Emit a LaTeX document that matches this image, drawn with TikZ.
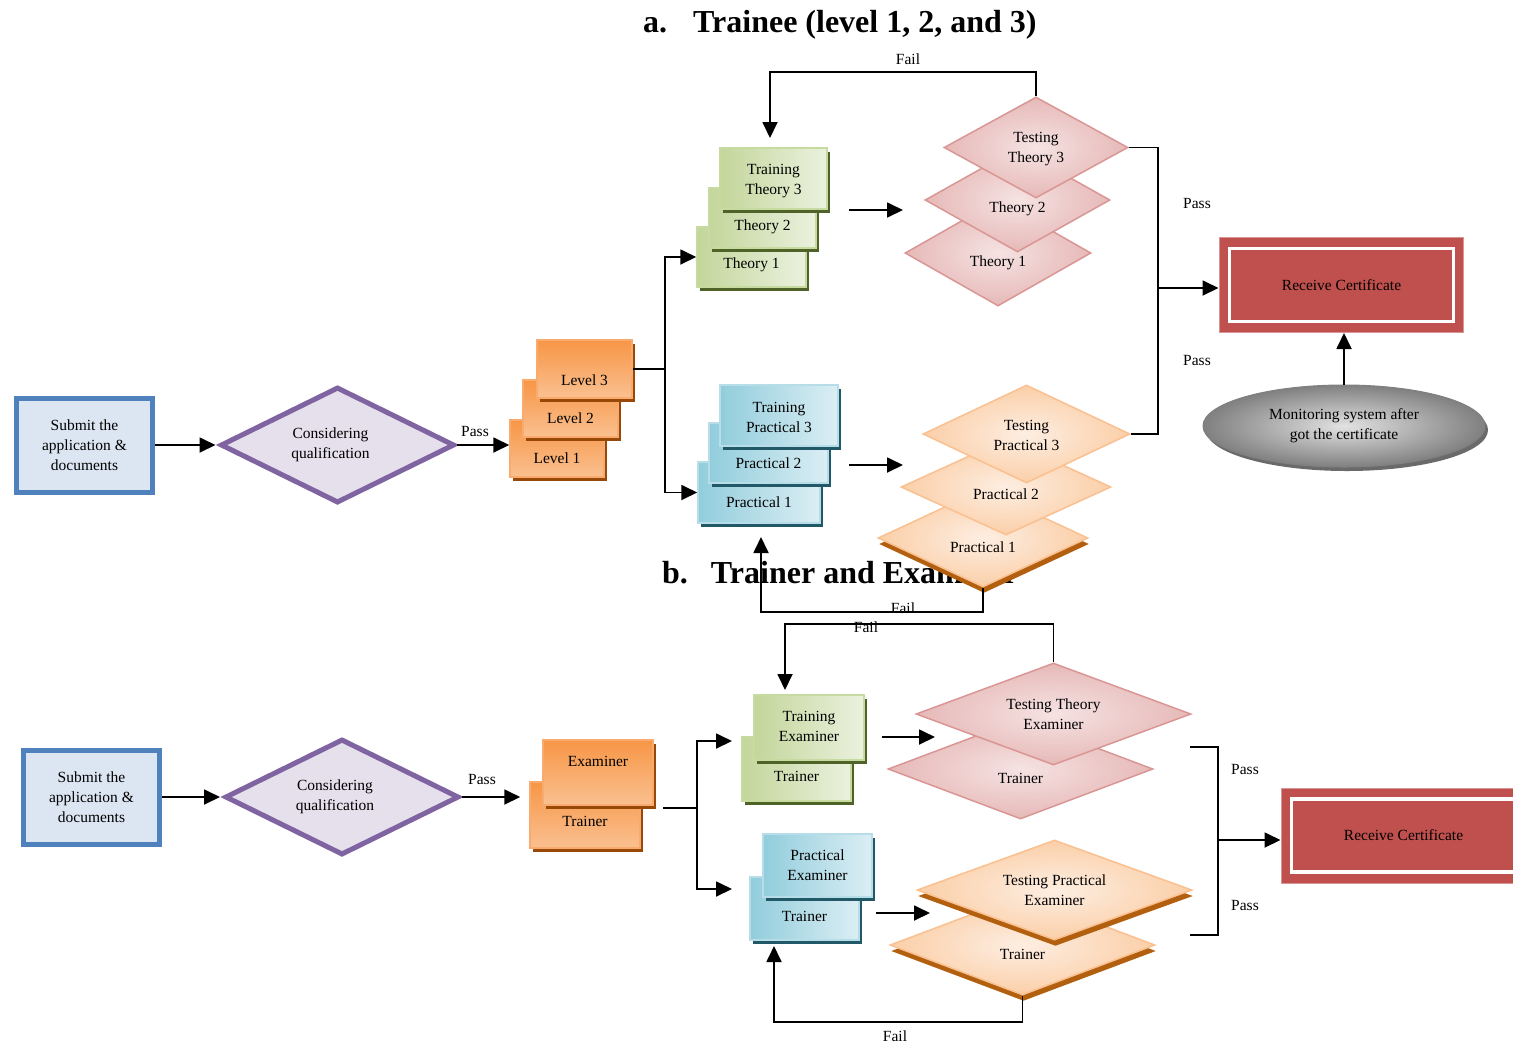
\documentclass[tikz,border=0pt]{standalone}
\usepackage{fontspec}
\setmainfont{Liberation Serif}
\usetikzlibrary{arrows.meta,shapes.geometric,shadows}

\definecolor{subBd}{HTML}{4F81BD}
\definecolor{subFl}{HTML}{DCE6F2}
\definecolor{conBd}{HTML}{8064A2}
\definecolor{conFl}{HTML}{E5E0EC}
\definecolor{orT}{HTML}{F79646}
\definecolor{orB}{HTML}{FAC090}
\definecolor{orBd}{HTML}{F9AA6E}
\definecolor{orS}{HTML}{984807}
\definecolor{gnD}{HTML}{C3D69B}
\definecolor{gnL}{HTML}{EBF1DE}
\definecolor{gnBd}{HTML}{C7DA9F}
\definecolor{gnS}{HTML}{4F6228}
\definecolor{blD}{HTML}{92CDDC}
\definecolor{blL}{HTML}{DBEEF4}
\definecolor{blBd}{HTML}{B7DEE8}
\definecolor{blS}{HTML}{215968}
\definecolor{pkD}{HTML}{E6B9B8}
\definecolor{pkL}{HTML}{F5E3E2}
\definecolor{pkBd}{HTML}{D99694}
\definecolor{poD}{HTML}{FBCFA8}
\definecolor{poL}{HTML}{FDEEE2}
\definecolor{poBd}{HTML}{FAC090}
\definecolor{poS}{HTML}{B2600F}
\definecolor{rcFl}{HTML}{C0504D}
\definecolor{rcBd}{HTML}{D99694}
\definecolor{monD}{HTML}{808080}
\definecolor{monL}{HTML}{E2E2E2}
\definecolor{monS}{HTML}{6A6A6A}

\tikzset{
  txt/.style={font=\fontsize{15.5}{20}\selectfont, align=center, inner sep=1pt, text=black},
  title/.style={font=\fontsize{32}{36}\selectfont\bfseries, inner sep=0pt},
  conn/.style={line width=1.8pt, draw=black},
  arr/.style={conn, -{Triangle[length=16pt,width=15pt]}},
  submit/.style={txt, rectangle, draw=subBd, line width=5pt, fill=subFl,
    minimum width=136pt, minimum height=94pt},
  consider/.style={diamond, shape aspect=2.5, draw=conBd, line width=5pt, fill=conFl,
    minimum width=234pt, minimum height=116pt},
  card/.style={txt, rectangle, line width=1.5pt},
  orcard/.style={card, draw=orBd, top color=orT, bottom color=orB,
    drop shadow={shadow xshift=3pt, shadow yshift=-4pt, fill=orS, opacity=1}},
  gncard/.style={card, draw=gnBd, left color=gnD, right color=gnL,
    drop shadow={shadow xshift=3pt, shadow yshift=-4pt, fill=gnS, opacity=1}},
  blcard/.style={card, draw=blBd, left color=blD, right color=blL,
    drop shadow={shadow xshift=3pt, shadow yshift=-4pt, fill=blS, opacity=1}},
  pkdia/.style={txt, diamond, shape aspect=2.5, draw=pkBd, line width=1.5pt,
    inner color=pkL, outer color=pkD},
  podia/.style={txt, diamond, shape aspect=2.5, draw=poBd, line width=1.5pt,
    inner color=poL, outer color=poD},
  podiash/.style={podia,
    drop shadow={shadow xshift=1pt, shadow yshift=-6pt, fill=poS, opacity=1}},
  rc/.style={rectangle, fill=rcFl, draw=rcBd, line width=1pt,
    minimum width=244pt, minimum height=95pt},
  rcin/.style={txt, rectangle, draw=white, line width=3.5pt,
    minimum width=224pt, minimum height=73pt},
  monitor/.style={txt, ellipse, draw=monD, line width=1pt, inner color=monL, outer color=monD,
    minimum width=282pt, minimum height=82pt,
    drop shadow={shadow xshift=3pt, shadow yshift=-4pt, fill=monS, opacity=1}},
}

\begin{document}
\begin{tikzpicture}[x=1pt,y=-1pt]
\useasboundingbox (0,0) rectangle (1513,1045);
\fill[white] (0,0) rectangle (1513,1045);

% ---------- headings ----------
\node[title, anchor=base west] (titleA) at (643,32) {a.\hspace{26pt}Trainee (level 1, 2, and 3)};
\node[title, anchor=base west] (titleB) at (662,583) {b.\hspace{23pt}Trainer and Examiner};

% ================= a. Trainee =================
\node[submit] (subA) at (84.5,445) {Submit the\\application \&\\documents};
\node[consider, label={[txt,name=conAt,xshift=-7pt]center:Considering\\qualification}] (conA) at (337.5,445) {};

% levels
\node[orcard, minimum width=94pt, minimum height=57pt,
  label={[txt,name=lv1t,yshift=-9.5pt]center:Level 1}] (lv1) at (557,448.5) {};
\node[orcard, minimum width=95pt, minimum height=57pt,
  label={[txt,name=lv2t,yshift=-9.5pt]center:Level 2}] (lv2) at (570.5,408.5) {};
\node[orcard, minimum width=95pt, minimum height=58pt,
  label={[txt,name=lv3t,yshift=-11pt]center:Level 3}] (lv3) at (584.5,369) {};

% theory training
\node[gncard, minimum width=109pt, minimum height=60pt,
  label={[txt,name=th1t,yshift=-8pt]center:Theory 1}] (th1) at (751.5,257) {};
\node[gncard, minimum width=107pt, minimum height=60pt,
  label={[txt,name=th2t,yshift=-9pt]center:Theory 2}] (th2) at (762.5,218) {};
\node[gncard, minimum width=107pt, minimum height=61pt,
  label={[txt,name=trTh3t,yshift=-2.5pt]center:Training\\Theory 3}] (trTh3) at (773.5,178.5) {};

% practical training
\node[blcard, minimum width=122pt, minimum height=61pt,
  label={[txt,name=pr1t,yshift=-9.5pt]center:Practical 1}] (pr1) at (759,492.5) {};
\node[blcard, minimum width=119pt, minimum height=60pt,
  label={[txt,name=pr2t,yshift=-10pt]center:Practical 2}] (pr2) at (768.5,453) {};
\node[blcard, minimum width=118pt, minimum height=61pt,
  label={[txt,name=trPr3t,yshift=-1.5pt]center:Training\\Practical 3}] (trPr3) at (779,415.5) {};

% theory tests
\node[pkdia, minimum width=186pt, minimum height=106pt,
  label={[txt,name=t1dt,yshift=-10pt]center:Theory 1}] (t1d) at (998,253) {};
\node[pkdia, minimum width=185pt, minimum height=104pt,
  label={[txt,name=t2dt,yshift=-9pt]center:Theory 2}] (t2d) at (1017.5,200) {};
\node[pkdia, minimum width=184pt, minimum height=101pt,
  label={[txt,name=tt3t,yshift=-1.5pt]center:Testing\\Theory 3}] (tt3) at (1036,147.5) {};

% practical tests
\node[podiash, minimum width=210pt, minimum height=98pt,
  label={[txt,name=p1dt,yshift=-9pt]center:Practical 1}] (p1d) at (983,538) {};
\node[podia, minimum width=210pt, minimum height=96pt,
  label={[txt,name=p2dt,yshift=-7pt]center:Practical 2}] (p2d) at (1006,487) {};
\node[podia, minimum width=207pt, minimum height=98pt,
  label={[txt,name=tp3t,yshift=-1pt]center:Testing\\Practical 3}] (tp3) at (1026.5,434) {};

% certificate and monitoring
\node[rc] (rcA) at (1341,285) {};
\node[rcin] (rcAin) at (1341.5,285) {Receive Certificate};
\node[monitor] (mon) at (1344,426) {Monitoring system after\\got the certificate};

% connectors a
\draw[arr, shorten >=2.5pt] (subA.east) -- (conA.west);
\draw[arr] (conA.east) -- (lv1.west |- conA.east);
\node[txt] (passA1) at (475,431) {Pass};

\coordinate (jA) at ([xshift=32pt]lv3.east);
\draw[conn] (lv3.east) -- (jA);
\draw[arr] (jA) |- (th1.west);
\draw[arr] (jA) |- (pr1.west);

\coordinate (aT0) at (849,210);
\coordinate (aT1) at (903,210);
\draw[arr] (aT0) -- (aT1);
\coordinate (aP0) at (849,465);
\coordinate (aP1) at (903,465);
\draw[arr] (aP0) -- (aP1);

\coordinate (fA1) at (770,138);
\draw[arr] (tt3.north) -- ++(0,-24) -| (fA1);
\node[txt] (failA1) at (908,59) {Fail};

\coordinate (fA2) at (761,537);
\draw[arr] (p1d.south) -- ++(0,24) -| (fA2);
\node[txt] (failA2) at (903,608) {Fail};

\coordinate (jB) at (1158,288);
\draw[conn] (tt3.east) -| (jB) |- (tp3.east);
\draw[arr] (jB) -- (rcA.west |- jB);
\node[txt] (passA2) at (1197,203) {Pass};
\node[txt] (passA3) at (1197,360) {Pass};

\draw[arr] (mon.north) -- (mon.north |- rcA.south);

% ================= b. Trainer and Examiner =================
\node[submit] (subB) at (91.5,797) {Submit the\\application \&\\documents};
\node[consider, label={[txt,name=conBt,xshift=-7pt]center:Considering\\qualification}] (conB) at (342,797) {};

\node[orcard, minimum width=110pt, minimum height=66pt,
  label={[txt,name=trnOt,yshift=-6pt]center:Trainer}] (trnO) at (585,815) {};
\node[orcard, minimum width=110pt, minimum height=65pt,
  label={[txt,name=exOt,yshift=11.5pt]center:Examiner}] (exO) at (598,772.5) {};

\node[gncard, minimum width=109pt, minimum height=64pt,
  label={[txt,name=trnGt,yshift=-7pt]center:Trainer}] (trnG) at (796.5,769) {};
\node[gncard, minimum width=110pt, minimum height=65pt,
  label={[txt,name=trExt,yshift=1pt]center:Training\\Examiner}] (trEx) at (809,727.5) {};

\node[blcard, minimum width=109pt, minimum height=63pt,
  label={[txt,name=trnBt,yshift=-7.5pt]center:Trainer}] (trnB) at (804.5,908.5) {};
\node[blcard, minimum width=109pt, minimum height=63pt] (prEx) at (817.5,865.5) {Practical\\Examiner};

\node[pkdia, minimum width=265pt, minimum height=100pt,
  label={[txt,name=trnPDt,yshift=-9pt]center:Trainer}] (trnPD) at (1020.5,769) {};
\node[pkdia, minimum width=275pt, minimum height=102pt] (tte) at (1053.5,714) {Testing Theory\\Examiner};

\node[podiash, minimum width=265pt, minimum height=100pt,
  label={[txt,name=trnODt,yshift=-9pt]center:Trainer}] (trnOD) at (1022.5,945) {};
\node[podiash, minimum width=275pt, minimum height=100pt] (tpe) at (1054.5,890) {Testing Practical\\Examiner};

\node[rc] (rcB) at (1403,835.5) {};
\node[rcin] (rcBin) at (1403.5,835.5) {Receive Certificate};

% connectors b
\draw[arr, shorten >=2.5pt] (subB.east) -- (conB.west);
\draw[arr, shorten >=9pt] (conB.east) -- (trnO.west |- conB.east);
\node[txt] (passB1) at (482,779) {Pass};

\coordinate (jC0) at (663,808);
\coordinate (jC) at (697,808);
\coordinate (tipG) at (732,741);
\coordinate (tipB) at (732,889);
\draw[conn] (jC0) -- (jC);
\draw[arr] (jC) |- (tipG);
\draw[arr] (jC) |- (tipB);

\coordinate (bT0) at (882,737);
\coordinate (bT1) at (935,737);
\draw[arr] (bT0) -- (bT1);
\coordinate (bP0) at (876,913);
\coordinate (bP1) at (930,913);
\draw[arr] (bP0) -- (bP1);

\coordinate (fB1) at (785,690);
\draw[arr] (tte.north) -- ++(0,-38) -| (fB1);
\node[txt] (failB1) at (866,627) {Fail};

\coordinate (fB2) at (774,946);
\draw[arr] (trnOD.south) -- ++(0,26) -| (fB2);
\node[txt] (failB2) at (895,1036) {Fail};

\coordinate (bk1) at (1190,747);
\coordinate (bk2) at (1190,935);
\coordinate (jD) at (1218,840);
\draw[conn] (bk1) -| (jD) |- (bk2);
\draw[arr] (jD) -- (rcB.west |- jD);
\node[txt] (passB2) at (1245,769) {Pass};
\node[txt] (passB3) at (1245,905) {Pass};

\end{tikzpicture}
\end{document}
